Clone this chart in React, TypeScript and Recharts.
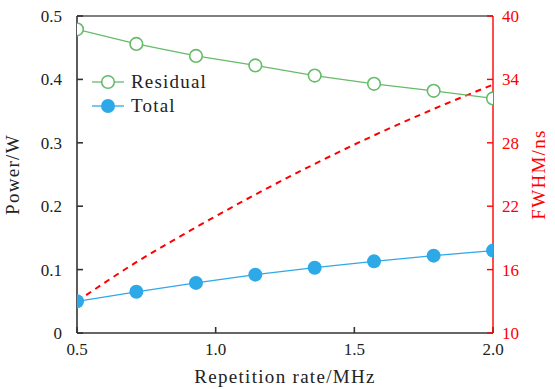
import React from 'react';
import { LineChart, Line, XAxis, YAxis, Legend, ReferenceLine } from 'recharts';

// repetition rate in MHz
const rates = [0.5, 0.714, 0.929, 1.143, 1.357, 1.571, 1.786, 2.0];
// power in W
const residualPower = [0.479, 0.456, 0.437, 0.422, 0.406, 0.393, 0.382, 0.37];
const totalPower = [0.05, 0.065, 0.079, 0.092, 0.103, 0.113, 0.122, 0.13];
// pulse width in ns
const fwhm = [13, 16.7, 20.0, 23.1, 26.0, 28.7, 31.2, 33.5];

const xTicks = [0.5, 1.0, 1.5, 2.0];
const powerTicks = [0, 0.1, 0.2, 0.3, 0.4, 0.5];
const fwhmTicks = [10, 16, 22, 28, 34, 40];

const data = rates.map((r, i) => ({
  rate: r,
  residual: residualPower[i],
  total: totalPower[i],
  fwhm: fwhm[i],
}));

const GREEN = '#66bb6a';
const BLUE = '#2ea9e8';
const RED = '#ff0000';
const FONT = '"Liberation Serif", serif';

const tickStyle = { fontFamily: FONT, fontSize: 17 };
const labelStyle = { fontFamily: FONT, fontSize: 19, letterSpacing: 1.3, textAnchor: 'middle' as const };

function LegendBox(props: any) {
  const items = (props.payload || []).filter((p: any) => p.dataKey !== 'fwhm');
  return (
    <div style={{ fontFamily: FONT, fontSize: 19, letterSpacing: 1.2, color: '#222' }}>
      {items.map((p: any) => (
        <div key={p.value} style={{ display: 'flex', alignItems: 'center', height: 24 }}>
          <svg width={32} height={16} style={{ marginRight: 7 }}>
            <line x1={0} y1={8} x2={32} y2={8} stroke={p.color} strokeWidth={1.3} />
            {p.dataKey === 'residual' ? (
              <circle cx={16} cy={8} r={6.3} fill="#fff" stroke={p.color} strokeWidth={1.6} />
            ) : (
              <circle cx={16} cy={8} r={7} fill={p.color} />
            )}
          </svg>
          <span>{p.value}</span>
        </div>
      ))}
    </div>
  );
}

export default function App() {
  return (
    <div style={{ position: 'absolute', left: 0, top: 0, background: '#fff', fontFamily: FONT }}>
      <LineChart width={555} height={389} data={data} margin={{ top: 16, right: 0, left: 0, bottom: 0 }}>
        <XAxis
          dataKey="rate"
          type="number"
          domain={[0.5, 2.0]}
          ticks={xTicks}
          allowDataOverflow
          height={56}
          tickSize={-6}
          tickMargin={16}
          tickFormatter={(v: number) => v.toFixed(1)}
          stroke="#333"
          strokeWidth={1.6}
          tick={{ fill: '#222', fontFamily: FONT, fontSize: 17, style: tickStyle }}
          label={{ value: 'Repetition rate/MHz', position: 'insideBottom', offset: 6, fill: '#222', style: labelStyle }}
        />
        <YAxis
          yAxisId="p"
          domain={[0, 0.5]}
          ticks={powerTicks}
          width={77}
          tickSize={-6}
          tickMargin={21}
          tickFormatter={(v: number) => (v === 0 ? '0' : v.toFixed(1))}
          stroke="#333"
          strokeWidth={1.6}
          tick={{ fill: '#222', fontFamily: FONT, fontSize: 17, style: tickStyle }}
          label={{ value: 'Power/W', angle: -90, position: 'insideLeft', offset: 17, dx: -5, fill: '#222', style: labelStyle }}
        />
        <YAxis
          yAxisId="f"
          orientation="right"
          domain={[10, 40]}
          ticks={fwhmTicks}
          width={62}
          tickSize={-6}
          tickMargin={15}
          stroke={RED}
          strokeWidth={1.4}
          tick={{ fill: RED, fontFamily: FONT, fontSize: 17, style: tickStyle }}
          label={{ value: 'FWHM/ns', angle: -90, position: 'insideRight', offset: 10, dx: -7, fill: RED, style: labelStyle }}
        />
        <ReferenceLine yAxisId="p" y={0.5} stroke="#000" strokeWidth={1.2} />
        <Legend
          layout="vertical"
          align="center"
          verticalAlign="middle"
          content={<LegendBox />}
          wrapperStyle={{ left: 92, top: 70, width: 150 }}
        />
        <Line
          yAxisId="f"
          dataKey="fwhm"
          type="monotone"
          stroke={RED}
          strokeWidth={2}
          strokeDasharray="6 5"
          dot={false}
          legendType="none"
          isAnimationActive={false}
        />
        <Line
          yAxisId="p"
          dataKey="residual"
          name="Residual"
          type="linear"
          stroke={GREEN}
          strokeWidth={1.3}
          dot={{ r: 6.3, fill: '#fff', stroke: GREEN, strokeWidth: 1.6 }}
          isAnimationActive={false}
        />
        <Line
          yAxisId="p"
          dataKey="total"
          name="Total"
          type="linear"
          stroke={BLUE}
          strokeWidth={1.3}
          dot={{ r: 7, fill: BLUE, stroke: BLUE, strokeWidth: 0 }}
          isAnimationActive={false}
        />
      </LineChart>
    </div>
  );
}
